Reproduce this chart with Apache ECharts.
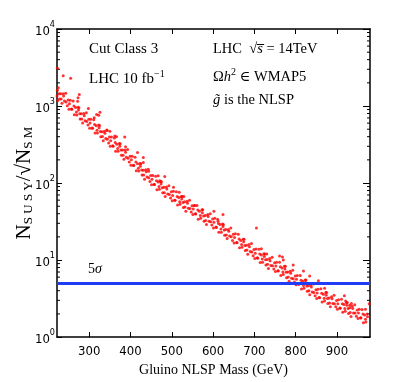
<!DOCTYPE html>
<html>
<head>
<meta charset="utf-8">
<script src="https://cdn.jsdelivr.net/npm/echarts@6/dist/echarts.min.js"></script>
<style>
html, body { margin: 0; padding: 0; background: #fff; }
#chart { width: 409px; height: 382px; }
</style>
</head>
<body>
<div id="chart"></div>
<script>
var chart = echarts.init(document.getElementById('chart'));

// x tick labels (GeV)
var xTicks = [300, 400, 500, 600, 700, 800, 900];
// minor log ticks on the y axis
var minorY = [2, 3, 4, 5, 6, 7, 8, 9, 20, 30, 40, 50, 60, 70, 80, 90,
  200, 300, 400, 500, 600, 700, 800, 900, 2000, 3000, 4000, 5000, 6000, 7000, 8000, 9000];
// 5 sigma discovery level
var sigmaLevel = 5;

// main band of scan points [gluino mass, N_SUSY/sqrt(N_SM)]
var bandPoints = [
  [222,1350],[223,1600],[224,1180],
  [225,1730],[228,1230],[231,1440],[234,1090],[237,1440],[240,1160],[243,1460],[247,1005],
  [251,910],[254,1190],[258,905],[261,1160],[264,770],[267,955],[270,765],[273,965],
  [275,950],[278,680],[281,795],[284,600],[287,800],[290,645],[293,815],[297,565],
  [301,515],[304,675],[308,515],[311,665],[314,445],[317,555],[320,445],[323,565],
  [325,560],[328,400],[331,465],[334,355],[337,470],[340,380],[343,480],[347,330],
  [351,300],[354,395],[358,300],[361,385],[364,258],[367,320],[370,258],[373,325],
  [375,323],[378,229],[381,268],[384,203],[387,269],[390,216],[393,272],[397,187],
  [401,170],[404,223],[408,169],[411,216],[414,144],[417,178],[420,143],[423,180],
  [425,178],[428,127],[431,147],[434,112],[437,149],[440,120],[443,151],[447,105],
  [451,95],[454,125],[458,96],[461,123],[464,82],[467,103],[470,83],[473,105],
  [475,104],[478,75],[481,88],[484,67],[487,89],[490,72],[493,92],[497,64],
  [501,59],[504,78],[508,60],[511,77],[514,52],[517,65],[520,53],[523,67],
  [525,67],[528,48],[531,57],[534,43],[537,58],[540,47],[543,60],[547,42],
  [551,39],[554,51],[558,39.5],[561,51],[564,34],[567,43],[570,35],[573,45],
  [575,45],[578,32],[581,38],[584,29],[587,39],[590,32],[593,40],[597,28.5],
  [601,26],[604,35],[608,26.5],[611,34],[614,23],[617,29],[620,23],[623,29.5],
  [625,29],[628,21],[631,25],[634,19],[637,25],[640,20.5],[643,26],[647,18],
  [651,16.6],[654,22],[658,16.8],[661,21.6],[664,14.5],[667,18],[670,14.7],[673,18.6],
  [675,18.6],[678,13.3],[681,15.6],[684,11.9],[687,15.9],[690,12.9],[693,16.4],[697,11.4],
  [701,10.5],[704,13.9],[708,10.6],[711,13.8],[714,9.3],[717,11.6],[720,9.4],[723,12.1],
  [725,12],[728,8.6],[731,10.2],[734,7.8],[737,10.5],[740,8.5],[743,10.9],[747,7.65],
  [751,7.1],[754,9.4],[758,7.2],[761,9.4],[764,6.3],[767,7.9],[770,6.5],[773,8.3],
  [775,8.3],[778,5.9],[781,7.0],[784,5.3],[787,7.15],[790,5.8],[793,7.4],[797,5.2],
  [801,4.8],[804,6.3],[808,4.86],[811,6.3],[814,4.2],[817,5.3],[820,4.3],[823,5.5],
  [825,5.5],[828,3.95],[831,4.65],[834,3.55],[837,4.75],[840,3.86],[843,4.9],[847,3.43],
  [851,3.17],[854,4.19],[858,3.25],[861,4.23],[864,2.86],[867,3.6],[870,2.95],[873,3.78],
  [875,3.79],[878,2.74],[881,3.23],[884,2.48],[887,3.34],[890,2.73],[893,3.5],[897,2.47],
  [901,2.3],[904,3.06],[908,2.37],[911,3.1],[914,2.1],[917,2.65],[920,2.16],[923,2.79],
  [925,2.81],[928,2.03],[931,2.41],[934,1.85],[937,2.51],[940,2.05],[943,2.63],[947,1.87],
  [951,1.75],[954,2.3],[958,1.77],[961,2.28],[964,1.53],[967,1.93],[970,1.57],[973,1.99]
];

// points filling the core of the band
var corePoints = [
  [227,1440],[232,1230],[238,1350],[244,1130],[249,1200],
  [252,1070],[257,915],[263,1000],[269,835],[274,885],
  [277,795],[282,680],[288,750],[294,630],[299,672],
  [302,604],[307,520],[313,575],[319,485],[324,521],
  [327,468],[332,402],[338,442],[344,371],[349,396],
  [352,355],[357,304],[363,335],[369,281],[374,300],
  [377,268],[382,230],[388,251],[394,210],[399,223],
  [402,200],[407,170],[413,187],[419,156],[424,165],
  [427,148],[432,127],[438,140],[444,117],[449,125],
  [452,112],[457,96],[463,107],[469,90],[474,97],
  [477,87],[482,75],[488,84],[494,71],[499,77],
  [502,69],[507,60],[513,67],[519,57],[524,62],
  [527,56],[532,49],[538,54.7],[544,46.7],[549,50.8],
  [552,46],[557,39.9],[563,44.6],[569,38],[574,41.3],
  [577,37.4],[582,32.6],[588,36.7],[594,31.5],[599,34.2],
  [602,31],[607,26.8],[613,29.8],[619,25.3],[624,27.3],
  [627,24.6],[632,21.2],[638,23.7],[644,20.1],[649,21.7],
  [652,19.6],[657,16.9],[663,18.8],[669,15.9],[674,17.3],
  [677,15.5],[682,13.5],[688,14.9],[694,12.7],[699,13.7],
  [702,12.3],[707,10.7],[713,12],[719,10.3],[724,11.1],
  [727,10.1],[732,8.8],[738,9.8],[744,8.45],[749,9.2],
  [752,8.36],[757,7.27],[763,8.18],[769,7.02],[774,7.66],
  [777,6.93],[782,6.01],[788,6.72],[794,5.74],[799,6.21],
  [802,5.63],[807,4.9],[813,5.49],[819,4.69],[824,5.11],
  [827,4.61],[832,4.0],[838,4.46],[844,3.8],[849,4.11],
  [852,3.73],[857,3.27],[863,3.7],[869,3.19],[874,3.5],
  [877,3.18],[882,2.78],[888,3.15],[894,2.72],[899,2.98],
  [902,2.71],[907,2.38],[913,2.71],[919,2.35],[924,2.59],
  [927,2.36],[932,2.08],[938,2.36],[944,2.05],[949,2.25],
  [952,2.05],[957,1.78],[963,1.99],[969,1.7],[974,1.84]
];

// scattered points lying above the band
var outlierPoints = [
  [223,3100],[237,2470],[255,2300],[272,1150],[273,1280],[276,1410],[298,930],[312,705],
  [318,777],[323,760],[326,830],[343,490],[350,470],[362,407],[366,400],[386,395],[388,295],
  [417,250],[431,214],[431,185],[444,142],[467,124],[471,107],[483,122],[504,88],[518,76],
  [529,67],[556,51],[602,43],[612,32],[624,39],[705,26],[717,14],[730,12],[761,11.3],
  [768,11],[770,10],[794,8.6],[819,7.2],[834,6.2],[855,5.4],[870,4.3],[918,3.45],
  [921,2.94],[931,2.6],[935,2.74],[969,2.3],[978,2.7]
];

var serif = '"Liberation Serif", "DejaVu Serif", serif';
var narrow = '"Liberation Sans Narrow", "DejaVu Sans Condensed", "Liberation Sans", sans-serif';
var xMin = 222, xMax = 980;

var tickStyle = { show: true, inside: true, length: 5, lineStyle: { color: '#000', width: 1 } };
var lineStyle = { show: true, lineStyle: { color: '#000', width: 1.5 } };

function powLabel(v) {
  return '{b|10}{s|' + Math.round(Math.log10(v)) + '}';
}

var option = {
  backgroundColor: '#fff',
  animation: false,
  grid: { left: 57, right: 39, top: 29, bottom: 43 },
  xAxis: [{
    type: 'value', min: xMin, max: xMax, position: 'bottom',
    axisLine: lineStyle,
    axisTick: Object.assign({ customValues: xTicks }, tickStyle),
    splitLine: { show: false },
    axisLabel: { customValues: xTicks, fontFamily: narrow, fontSize: 13, color: '#000', margin: 8 },
    name: 'Gluino NLSP Mass (GeV)', nameLocation: 'middle', nameGap: 24,
    nameTextStyle: { fontFamily: serif, fontSize: 14, color: '#000' }
  }, {
    type: 'value', min: xMin, max: xMax, position: 'top',
    axisLine: lineStyle,
    axisTick: Object.assign({ customValues: xTicks }, tickStyle),
    splitLine: { show: false },
    axisLabel: { show: false }
  }],
  yAxis: [{
    type: 'log', logBase: 10, min: 1, max: 10000, position: 'left',
    axisLine: lineStyle,
    axisTick: tickStyle,
    splitLine: { show: false },
    axisLabel: {
      formatter: powLabel, margin: 2,
      rich: {
        b: { fontFamily: narrow, fontSize: 13, color: '#000', verticalAlign: 'bottom', lineHeight: 18 },
        s: { fontFamily: narrow, fontSize: 9, color: '#000', verticalAlign: 'top', lineHeight: 10 }
      }
    },
    name: '{n|N}{sub|S U S Y}{n|/√N}{sub|S M}', nameLocation: 'middle', nameGap: 22,
    nameMoveOverlap: false,
    nameTextStyle: {
      rich: {
        n: { fontFamily: serif, fontSize: 21, color: '#000', verticalAlign: 'bottom', lineHeight: 22 },
        sub: { fontFamily: serif, fontSize: 13, color: '#000', verticalAlign: 'bottom', lineHeight: 18 }
      }
    }
  }, {
    type: 'log', logBase: 10, min: 1, max: 10000, position: 'right',
    axisLine: lineStyle,
    axisTick: { show: true, inside: true, length: 7, lineStyle: { color: '#000', width: 1 } },
    splitLine: { show: false },
    axisLabel: { show: false }
  }],
  graphic: [
    { type: 'text', x: 89, y: 49, style: { text: 'Cut Class 3', font: '15px ' + serif, fill: '#000', verticalAlign: 'middle' } },
    { type: 'text', x: 89, y: 78, style: {
      text: '{t|LHC 10 fb}{s|−1}', verticalAlign: 'middle',
      rich: {
        t: { fontFamily: serif, fontSize: 15, fill: '#000', verticalAlign: 'bottom', lineHeight: 18 },
        s: { fontFamily: serif, fontSize: 10, fill: '#000', verticalAlign: 'top', lineHeight: 10 }
      } } },
    { type: 'text', x: 213, y: 49, style: {
      text: '{t|LHC  √}{i|s̅}{t| = 14TeV}', verticalAlign: 'middle',
      rich: {
        t: { fontFamily: serif, fontSize: 14.5, fill: '#000' },
        i: { fontFamily: serif, fontSize: 14.5, fontStyle: 'italic', fill: '#000' }
      } } },
    { type: 'text', x: 213, y: 76, style: {
      text: '{t|Ω}{i|h}{s|2}{t| ∈ WMAP5}', verticalAlign: 'middle',
      rich: {
        t: { fontFamily: serif, fontSize: 14.5, fill: '#000', verticalAlign: 'bottom', lineHeight: 18 },
        i: { fontFamily: serif, fontSize: 14.5, fontStyle: 'italic', fill: '#000', verticalAlign: 'bottom', lineHeight: 18 },
        s: { fontFamily: serif, fontSize: 10, fill: '#000', verticalAlign: 'top', lineHeight: 10 }
      } } },
    { type: 'text', x: 213, y: 100, style: {
      text: '{i|g̃}{t| is the NLSP}', verticalAlign: 'middle',
      rich: {
        t: { fontFamily: serif, fontSize: 14.5, fill: '#000' },
        i: { fontFamily: serif, fontSize: 14.5, fontStyle: 'italic', fill: '#000' }
      } } },
    { type: 'text', x: 88, y: 269, style: {
      text: '{t|5}{i|σ}', verticalAlign: 'middle',
      rich: {
        t: { fontFamily: serif, fontSize: 14, fill: '#000' },
        i: { fontFamily: serif, fontSize: 14, fontStyle: 'italic', fill: '#000' }
      } } }
  ],
  series: [{
    type: 'scatter', xAxisIndex: 0, yAxisIndex: 0,
    data: bandPoints.concat(corePoints, outlierPoints),
    symbol: 'circle', symbolSize: 3,
    itemStyle: { color: '#ff0000' },
    silent: true, z: 3,
    markLine: {
      silent: true, symbol: 'none', label: { show: false },
      lineStyle: { color: '#1f3df5', width: 3, type: 'solid' },
      data: [{ yAxis: sigmaLevel }]
    }
  }, {
    type: 'custom', xAxisIndex: 0, yAxisIndex: 0, silent: true, clip: false,
    data: minorY.map(function (v) { return [xMin, v]; }),
    encode: { x: 0, y: 1 },
    renderItem: function (params, api) {
      var v = api.value(1);
      var pl = api.coord([xMin, v]);
      var pr = api.coord([xMax, v]);
      var st = { stroke: '#000', lineWidth: 1 };
      return {
        type: 'group',
        children: [
          { type: 'line', shape: { x1: pl[0], y1: pl[1], x2: pl[0] + 3, y2: pl[1] }, style: st },
          { type: 'line', shape: { x1: pr[0] - 3, y1: pr[1], x2: pr[0], y2: pr[1] }, style: st }
        ]
      };
    }
  }]
};

chart.setOption(option);
</script>
</body>
</html>
